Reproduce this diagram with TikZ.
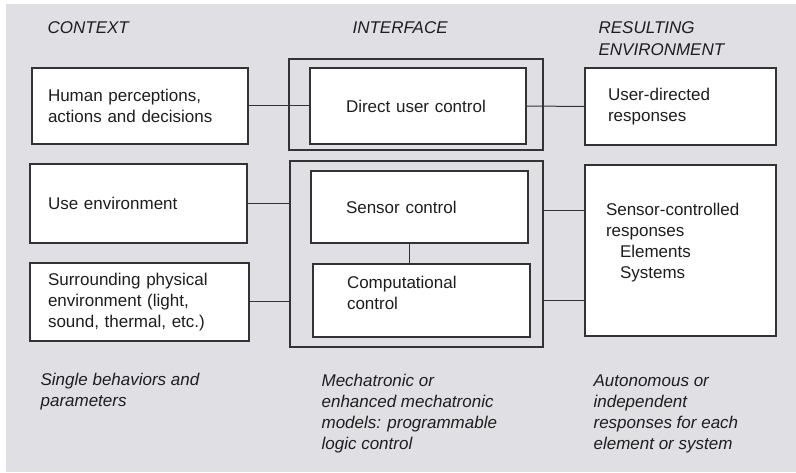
\documentclass[tikz,border=0pt]{standalone}
\usepackage{fontspec}
\setmainfont{Liberation Sans}
\usepackage{xcolor}
\definecolor{panelgray}{HTML}{E0E0E4}
\definecolor{framegray}{HTML}{333333}
\definecolor{textgray}{HTML}{1E1E1E}

\begin{document}
\begin{tikzpicture}[x=1pt,y=-1pt,line width=1.2pt,
  every node/.style={font=\fontsize{17}{21}\selectfont, text=textgray},
  box/.style={draw=framegray, fill=white, inner ysep=0pt, align=left},
  lift/.style={execute at end node={\endgraf\kern#1\hrule height 0pt\relax}},
  frame/.style={draw=framegray, inner sep=0pt},
  link/.style={draw=framegray, line width=1pt},
  head/.style={anchor=west, inner sep=0pt, align=left, font=\fontsize{17}{21}\selectfont\itshape},
  note/.style={anchor=west, inner sep=0pt, align=left, font=\fontsize{17}{21}\selectfont\itshape}
]
  \useasboundingbox (0,0) rectangle (796,473);
  \fill[panelgray] (6,4) rectangle (796,472);

  % column headings
  \node[head] (hcontext) at (47,28) {CONTEXT};
  \node[head] (hinterface) at (352,28) {INTERFACE};
  \node[head] (hresult) at (598,39) {RESULTING\\[1pt]ENVIRONMENT};

  % interface frames
  \node[frame, minimum width=254pt, minimum height=91pt] (dframe) at (416,104.5) {};
  \node[frame, minimum width=253pt, minimum height=186pt] (sframe) at (416.5,254) {};

  % context
  \node[box, minimum height=76pt, inner xsep=16pt, text width=184pt] (human) at (140,106)
    {Human perceptions,\\actions and decisions};
  \node[box, minimum height=79pt, inner xsep=18pt, text width=181pt] (useenv) at (138.5,203.5)
    {Use environment};
  \node[box, minimum height=78pt, inner xsep=18pt, text width=183pt] (surround) at (139.5,302)
    {Surrounding physical\\environment (light,\\sound, thermal, etc.)};

  % interface
  \node[box, minimum height=76pt, inner xsep=36pt, text width=144pt] (direct) at (418,106)
    {Direct user control};
  \node[box, minimum height=72pt, inner xsep=35pt, text width=147pt] (sensor) at (419.5,207)
    {Sensor control};
  \node[box, minimum height=73pt, inner xsep=34pt, text width=149pt, lift=16pt] (comp) at (421.5,300.5)
    {Computational\\control};

  % resulting environment
  \node[box, minimum height=77pt, inner xsep=23pt, text width=145pt] (userresp) at (680.5,106.5)
    {User-directed\\responses};
  \node[box, minimum height=171pt, inner xsep=21pt, text width=149pt, lift=16pt] (sensresp) at (680.5,250.5)
    {Sensor-controlled\\responses\\\hspace*{14pt}Elements\\\hspace*{14pt}Systems};

  % connectors
  \draw[link] (human.east) -- (direct.west);
  \draw[link] (direct.east) -- (userresp.west);
  \draw[link] (useenv.east) -- (useenv.east -| sframe.west);
  \draw[link] (surround.east) -- (surround.east -| sframe.west);
  \draw[link] ([xshift=-10pt]sensor.south) -- ([xshift=-10pt]sensor.south |- comp.north);
  \draw[link] ([yshift=-4pt]sensor.east -| sframe.east) -- ([yshift=-4pt]sensor.east -| sensresp.west);
  \draw[link] (comp.east -| sframe.east) -- (comp.east -| sensresp.west);

  % bottom notes
  \node[note] (ncontext) at (40,392) {Single behaviors and\\parameters};
  \node[note] (ninterface) at (321,413.5) {Mechatronic or\\enhanced mechatronic\\models: programmable\\logic control};
  \node[note] (nresult) at (593,413.5) {Autonomous or\\independent\\responses for each\\element or system};
\end{tikzpicture}
\end{document}
